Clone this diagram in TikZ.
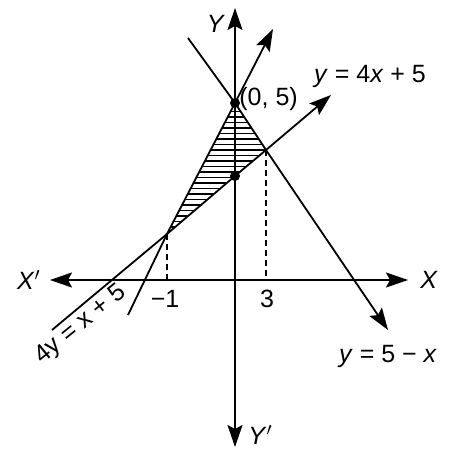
\documentclass[tikz,border=0pt]{standalone}
\usepackage{fontspec}
\setmainfont{Liberation Sans}
\usepackage{tikz}
\usetikzlibrary{arrows.meta}

\begin{document}
\begin{tikzpicture}[x=0.5pt,y=-0.5pt,
  axisline/.style={line width=0.9pt,{Stealth[length=11pt,width=7.5pt,inset=2pt]}-{Stealth[length=11pt,width=7.5pt,inset=2pt]}},
  graphline/.style={line width=0.9pt},
  tipend/.style={-{Stealth[length=11pt,width=7.5pt,inset=2pt]}},
  guide/.style={densely dashed,line width=0.6pt},
  dotpt/.style={circle,fill=black,inner sep=0pt,minimum size=5pt},
  lbl/.style={font=\fontsize{12.5}{15}\selectfont,inner sep=1pt}]
\useasboundingbox (0,0) rectangle (453,448);
% axes
\coordinate (xl) at (50,280);
\coordinate (xr) at (408,280);
\coordinate (yt) at (235,8);
\coordinate (yb) at (235,447);
\draw[axisline] (xl) -- (xr);
\draw[axisline] (yb) -- (yt);
\node[lbl,anchor=east] (xlbl) at (43,280) {\textit{X}$'$};
\node[lbl,anchor=west] (xrlbl) at (418,280) {\textit{X}};
\node[lbl] (ylbl) at (216,24) {\textit{Y}};
\node[lbl,anchor=west] (yblbl) at (246,435) {\textit{Y}$'$};
% corner points
\coordinate (pa) at (235,103);
\coordinate (pb) at (167,234);
\coordinate (pc) at (266,150);
\coordinate (pd) at (235,176);
% hatching
\begin{scope}
\clip (pb) -- (pa) -- (pc) -- cycle;
\foreach \h in {106,111.5,...,236}
  \draw[line width=0.6pt] (150,\h) -- (280,\h);
\end{scope}
% lines
\coordinate (sa) at (128,315);
\coordinate (sb) at (273,29);
\draw[graphline,tipend] (sa) -- (pb) -- (pa) -- (sb);
\coordinate (ma) at (188,38);
\coordinate (mb) at (388,330);
\draw[graphline,tipend] (ma) -- (pa) -- (pc) -- (mb);
\coordinate (la) at (52,330);
\coordinate (lb) at (331,95);
\draw[graphline,tipend] (la) -- (pb) -- (pd) -- (pc) -- (lb);
% dashed guides
\coordinate (gb) at (167,280);
\coordinate (gc) at (266,280);
\draw[guide] (pb) -- (gb);
\draw[guide] (pc) -- (gc);
% dots
\node[dotpt] (dota) at (pa) {};
\node[dotpt] (dotd) at (pd) {};
% labels
\node[lbl,anchor=west] (tpa) at (237,99) {(0, 5)};
\node[lbl] (tl1) at (370,76) {\textit{y} = 4\textit{x} + 5};
\node[lbl] (tl2) at (388,356) {\textit{y} = 5 − \textit{x}};
\node[lbl,rotate=39] (tl3) at (81,325) {4y = x + 5};
\node[lbl] (tm1) at (165,299) {−1};
\node[lbl] (t3) at (267,299) {3};
\end{tikzpicture}
\end{document}
